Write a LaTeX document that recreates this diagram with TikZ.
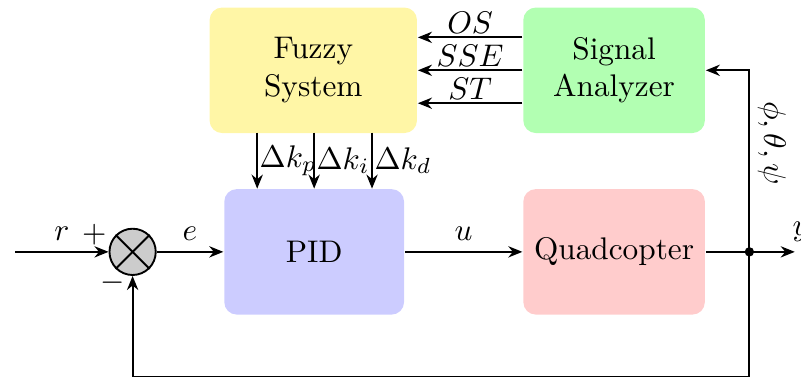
\documentclass[tikz,border=0pt]{standalone}
\usetikzlibrary{arrows.meta}
\usepackage{amsmath}
\usepackage{amssymb}

\definecolor{fuzzycol}{RGB}{255,246,166}

\begin{document}
\begin{tikzpicture}[
  semithick,
  block/.style={rounded corners=4pt, minimum height=1.41cm, align=center},
  sig/.style={-{Stealth[length=4.5pt, width=3.6pt]}}
]
  \useasboundingbox (0,0) rectangle (9.0,4.28);

  % blocks
  \node[block, fill=fuzzycol, minimum width=2.33cm] (fuzzy) at (3.52,3.49) {Fuzzy\\System};
  \node[block, fill=green!30, minimum width=2.04cm] (analyzer) at (6.90,3.49) {Signal\\Analyzer};
  \node[block, fill=blue!20, minimum width=2.02cm] (pid) at (3.53,1.45) {PID};
  \node[block, fill=red!20, minimum width=2.04cm] (quad) at (6.90,1.45) {Quadcopter};
  \node[draw, circle, fill=gray!40, minimum size=0.52cm, inner sep=0pt] (sum) at (1.49,1.45) {};
  \draw (sum.north west) -- (sum.south east);
  \draw (sum.north east) -- (sum.south west);
  \node (plus) at ([xshift=-0.16cm, yshift=0.19cm]sum.west) {$+$};
  \node (minus) at ([xshift=-0.22cm, yshift=-0.08cm]sum.south) {$-$};

  \coordinate (in) at (0.17,1.45);
  \coordinate (junc) at (8.42,1.45);
  \coordinate (out) at (8.93,1.45);
  \coordinate (bot) at (8.42,0.05);

  % main loop
  \draw[sig] (in) -- node[above] {$r$} (sum);
  \draw[sig] (sum) -- node[above] {$e$} (pid);
  \draw[sig] (pid) -- node[above] {$u$} (quad);
  \draw (quad) -- (junc);
  \draw[sig] (junc) -- (out) node[above right, inner sep=1pt, xshift=-2pt, yshift=2pt] {$y$};
  \draw[sig] (junc) -- (bot) -| (sum);
  \draw[sig] (junc) |- node[pos=0.3, rotate=-90, anchor=south, inner sep=2.5pt] {$\phi,\theta,\psi$} (analyzer.east);
  \fill (junc) circle (1.5pt);

  % analyzer to fuzzy
  \draw[sig] ([yshift=0.37cm]analyzer.west) -- node[above, inner sep=1pt] {$OS$} ([yshift=0.37cm]fuzzy.east);
  \draw[sig] (analyzer.west) -- node[above, inner sep=1pt] {$SSE$} (fuzzy.east);
  \draw[sig] ([yshift=-0.37cm]analyzer.west) -- node[above, inner sep=1pt] {$ST$} ([yshift=-0.37cm]fuzzy.east);

  % gains
  \draw[sig] (2.89,2.79) -- node[right, inner sep=0.5pt] {$\Delta k_p$} (2.89,2.16);
  \draw[sig] (3.53,2.79) -- node[right, inner sep=0.5pt] {$\Delta k_i$} (3.53,2.16);
  \draw[sig] (4.18,2.79) -- node[right, inner sep=0.5pt] {$\Delta k_d$} (4.18,2.16);
\end{tikzpicture}
\end{document}
